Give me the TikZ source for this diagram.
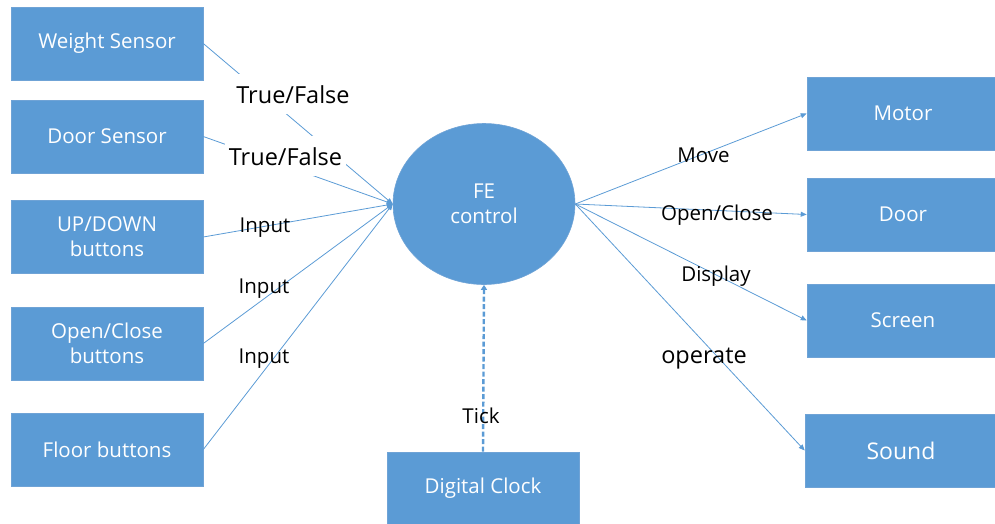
\documentclass[tikz,border=0pt]{standalone}
\usepackage{fontspec}
\setmainfont{Open Sans}
\usetikzlibrary{arrows.meta,shapes.geometric}
\definecolor{boxblue}{HTML}{5B9BD5}
\definecolor{boxedge}{HTML}{6FA3D6}
\definecolor{linkblue}{HTML}{5B9BD5}
\tikzset{
  unit/.style={rectangle, fill=boxblue, draw=boxedge, line width=0.6pt,
    minimum width=192pt, minimum height=73pt, text=white,
    font=\fontsize{20.5}{25}\selectfont, align=center, inner sep=0pt},
  hub/.style={ellipse, fill=boxblue, draw=boxedge, line width=0.6pt,
    minimum width=182pt, minimum height=161pt, text=white,
    font=\fontsize{20.5}{25}\selectfont, align=center, inner sep=0pt},
  link/.style={draw=linkblue, line width=0.8pt,
    -{Triangle[length=6pt,width=5pt]}},
  ticklink/.style={draw=linkblue, line width=2.4pt, dash pattern=on 5pt off 2.5pt,
    -{Triangle[length=5pt,width=6pt]}},
  tag/.style={text=black, font=\fontsize{20.5}{24}\selectfont, anchor=base, inner sep=0pt},
  bigtag/.style={tag, font=\fontsize{23.5}{26}\selectfont},
  masktag/.style={bigtag, fill=white, inner xsep=4pt, inner ysep=11pt}
}
\begin{document}
\begin{tikzpicture}[x=1pt, y=-1pt]
\useasboundingbox (0,0) rectangle (995,523);

% left-hand input units
\node[unit] (ws) at (107,43.5) {Weight Sensor};
\node[unit] (ds) at (107,136.5) {Door Sensor};
\node[unit] (ud) at (107,237) {UP/DOWN\\buttons};
\node[unit] (oc) at (107,343.5) {Open/Close\\buttons};
\node[unit] (fb) at (107,449.5) {Floor buttons};

% central controller
\node[hub] (fe) at (484,204) {FE\\control};

% right-hand output units
\node[unit] (mo) at (903,113.5) {Motor};
\node[unit] (dr) at (903,214.5) {Door};
\node[unit] (sc) at (903,320.5) {Screen};
\node[unit, font=\fontsize{23}{26}\selectfont] (so) at (901,450.5) {Sound};

% clock below the controller
\node[unit] (dc) at (483,488.5) {Digital Clock};

% inputs into the controller
\draw[link] (ws.east) -- (fe.west);
\draw[link] (ds.east) -- (fe.west);
\draw[link] (ud.east) -- (fe.west);
\draw[link] (oc.east) -- (fe.west);
\draw[link] (fb.east) -- (fe.west);

% outputs from the controller
\draw[link] (fe.east) -- (mo.west);
\draw[link] (fe.east) -- (dr.west);
\draw[link] (fe.east) -- (sc.west);
\draw[link] (fe.east) -- (so.west);

% clock tick
\draw[ticklink] (dc.north) -- (fe.south);

% connector labels
\node[masktag] (l1) at (293,103) {True/False};
\node[masktag] (l2) at (285.5,165) {True/False};
\node[tag] (l3) at (265,232) {Input};
\node[tag] (l4) at (264,293) {Input};
\node[tag] (l5) at (264,363) {Input};
\node[tag] (r1) at (703.5,162) {Move};
\node[tag] (r2) at (717,220) {Open/Close};
\node[tag] (r3) at (716,281) {Display};
\node[bigtag] (r4) at (704,363) {operate};
\node[tag] (t1) at (481,423) {Tick};
\end{tikzpicture}
\end{document}
